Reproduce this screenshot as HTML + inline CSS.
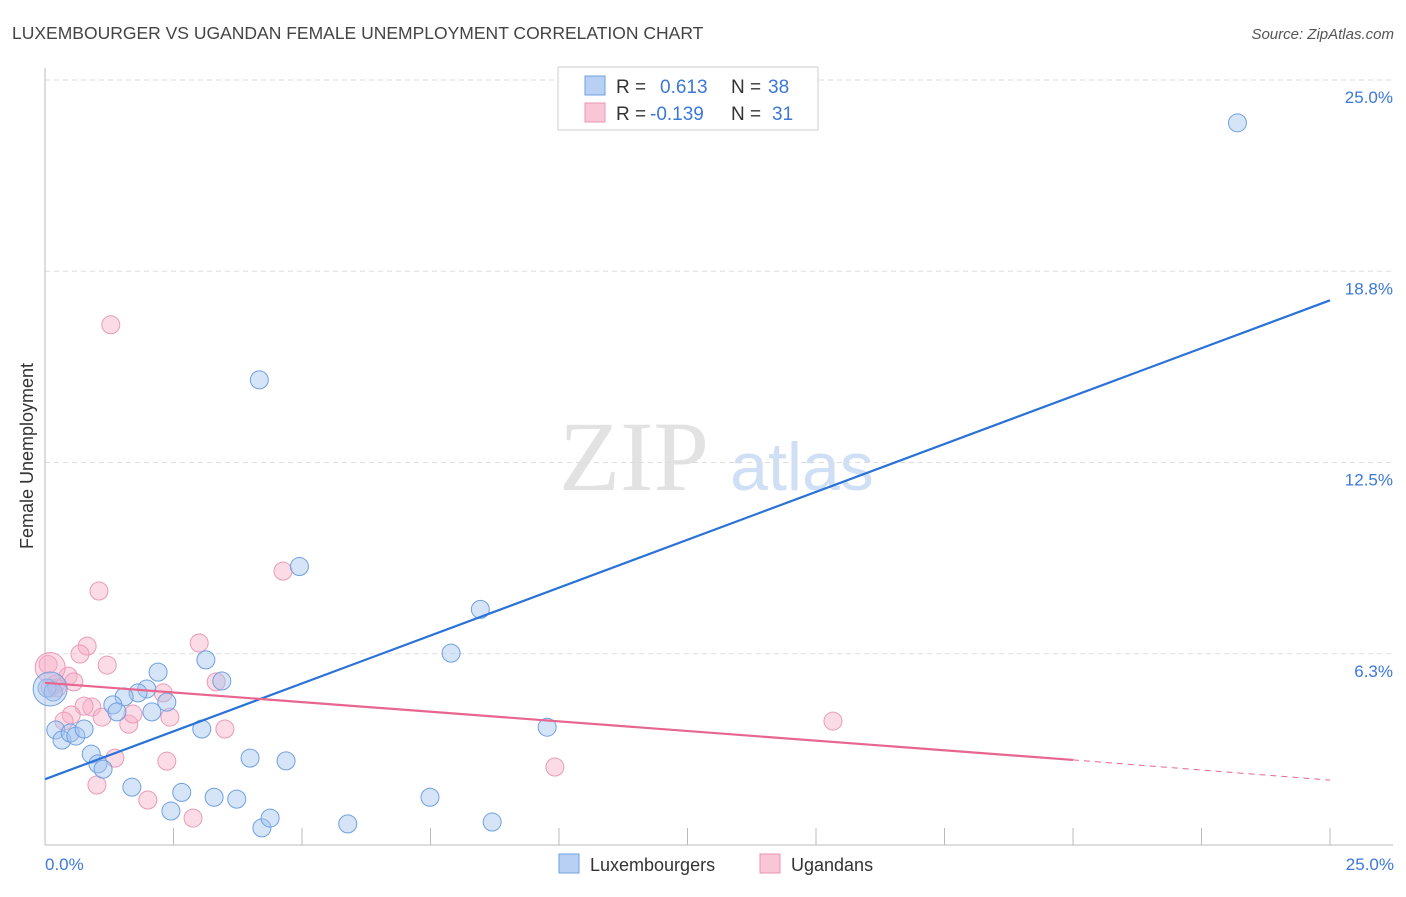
<!DOCTYPE html>
<html><head><meta charset="utf-8"><style>
body{margin:0;background:#fff;font-family:"Liberation Sans",sans-serif}
</style></head><body>
<svg id="c" width="1406" height="892" xmlns="http://www.w3.org/2000/svg">
<text x="12" y="39" font-size="17.5" fill="#444">LUXEMBOURGER VS UGANDAN FEMALE UNEMPLOYMENT CORRELATION CHART</text>
<text x="1394" y="39" font-size="15" fill="#555" font-style="italic" text-anchor="end">Source: ZipAtlas.com</text>
<text x="634" y="490" font-size="100" fill="#e2e2e2" font-family="Liberation Serif,serif" text-anchor="middle">ZIP</text>
<text x="802" y="490" font-size="68" fill="#cfdff5" text-anchor="middle">atlas</text>
<g id="grid"></g>
<line x1="45" y1="68" x2="45" y2="845" stroke="#bbb"/>
<line x1="45" y1="845" x2="1393" y2="845" stroke="#bbb"/>
<text x="33" y="456" font-size="18" fill="#333" transform="rotate(-90 33 456)" text-anchor="middle">Female Unemployment</text>
<text x="45" y="870" font-size="17" fill="#3b78d8">0.0%</text>
<text x="1394" y="870" font-size="17" fill="#3b78d8" text-anchor="end">25.0%</text>
<g id="pts"></g>
<g id="lines"></g>
<rect x="558" y="67" width="260" height="63" fill="#fff" stroke="#ccc"/>
<rect x="585" y="76" width="20" height="19" fill="#b7d0f4" stroke="#6fa0e0"/>
<rect x="585" y="103" width="20" height="19" fill="#f9c6d6" stroke="#e894b2"/>
<text x="616" y="93" font-size="19" fill="#333">R = <tspan fill="#3b78d8" x="660">0.613</tspan><tspan x="731" fill="#333">N = </tspan><tspan fill="#3b78d8" x="768">38</tspan></text>
<text x="616" y="120" font-size="19" fill="#333">R = <tspan fill="#3b78d8" x="650">-0.139</tspan><tspan x="731" fill="#333">N = </tspan><tspan fill="#3b78d8" x="772">31</tspan></text>
<rect x="559" y="854" width="20" height="19" fill="#b7d0f4" stroke="#6fa0e0"/>
<text x="590" y="871" font-size="18" fill="#333">Luxembourgers</text>
<rect x="760" y="854" width="20" height="19" fill="#f9c6d6" stroke="#e894b2"/>
<text x="791" y="871" font-size="18" fill="#333">Ugandans</text>
</svg>
<script>
const yTicks=[25,18.75,12.5,6.25];
const yTickLabels=["25.0%","18.8%","12.5%","6.3%"];
const xTicks=[2.5,5,7.5,10,12.5,15,17.5,20,22.5,25];
const luxX=[23.2,4.17,4.95,8.47,7.9,9.77,3.13,3.44,2.2,1.98,1.81,1.54,1.32,1.4,2.37,2.08,0.21,0.33,0.49,0.6,0.76,0.9,1.03,1.13,3.05,3.99,4.69,1.69,2.66,3.29,3.73,2.45,4.22,4.38,5.89,7.49,8.7,0.04,0.16,0.1];
const luxY=[23.6,15.2,9.1,7.7,6.27,3.85,6.05,5.36,5.65,5.1,4.97,4.84,4.58,4.35,4.67,4.35,3.76,3.43,3.66,3.56,3.79,2.97,2.65,2.48,3.79,2.84,2.75,1.89,1.72,1.56,1.5,1.11,0.56,0.88,0.69,1.56,0.75,5.13,5.0,5.1];
const luxR=[9,9,9,9,9,9,9,9,9,9,9,9,9,9,9,9,9,9,9,9,9,9,9,9,9,9,9,9,9,9,9,9,9,9,9,9,9,9,9,17];
const ugX=[1.28,1.05,4.63,3.0,0.82,0.68,1.21,0.45,0.56,0.21,0.1,0.06,2.3,3.33,0.91,0.76,0.51,0.37,1.11,1.63,1.71,2.43,3.5,1.36,2.37,1.01,2.0,2.88,15.33,9.92,0.23,0.1];
const ugY=[17.0,8.3,8.95,6.6,6.5,6.24,5.88,5.52,5.33,5.26,5.13,5.9,4.97,5.33,4.51,4.54,4.25,4.05,4.18,3.95,4.28,4.18,3.79,2.84,2.74,1.96,1.47,0.88,4.05,2.55,5.13,5.8];
const ugR=[9,9,9,9,9,9,9,9,9,9,9,9,9,9,9,9,9,9,9,9,9,9,9,9,9,9,9,9,9,9,9,15];
const luxTrend=[[0,2.15],[25,17.8]];
const ugTrendSolid=[[0,5.3],[20,2.78]];
const ugTrendDash=[[20,2.78],[25,2.12]];
const X=v=>45+v/25*1285, Y=v=>845-v/25*765;
const NS="http://www.w3.org/2000/svg";
function mk(tag,attrs,parent){const e=document.createElementNS(NS,tag);for(const k in attrs)e.setAttribute(k,attrs[k]);parent.appendChild(e);return e;}
const grid=document.getElementById('grid');
yTicks.forEach((t,i)=>{
 const l=mk('line',{x1:45,x2:1393,y1:Y(t),y2:Y(t),stroke:'#ddd','stroke-dasharray':'5,4'},grid);
 
 
 const tx=mk('text',{x:1393,y:Y(t)+23,'font-size':17,fill:'#3b78d8','text-anchor':'end'},grid);
 tx.textContent=yTickLabels[i];
 
 
});
xTicks.forEach(t=>{
 const l=mk('line',{x1:X(t),x2:X(t),y1:828,y2:845,stroke:'#bbb'},grid);
 
 
});
const pts=document.getElementById('pts');
ugX.forEach((v,i)=>{
 const c=mk('circle',{cx:X(v),cy:Y(ugY[i]),r:ugR[i],fill:'rgba(246,176,200,0.45)',stroke:'#eb9ab8','stroke-width':1},pts);
 
 
});
luxX.forEach((v,i)=>{
 const c=mk('circle',{cx:X(v),cy:Y(luxY[i]),r:luxR[i],fill:'rgba(164,196,240,0.45)',stroke:'#6fa0e0','stroke-width':1},pts);
 
 
});
const lines=document.getElementById('lines');
const b=mk('line',{x1:X(luxTrend[0][0]),y1:Y(luxTrend[0][1]),x2:X(luxTrend[1][0]),y2:Y(luxTrend[1][1]),stroke:'#2a72d6','stroke-width':2.2},lines);


const p=mk('line',{x1:X(ugTrendSolid[0][0]),y1:Y(ugTrendSolid[0][1]),x2:X(ugTrendSolid[1][0]),y2:Y(ugTrendSolid[1][1]),stroke:'#e8658f','stroke-width':2.2},lines);


const pd=mk('line',{x1:X(ugTrendDash[0][0]),y1:Y(ugTrendDash[0][1]),x2:X(ugTrendDash[1][0]),y2:Y(ugTrendDash[1][1]),stroke:'#e8658f','stroke-width':1,'stroke-dasharray':'6,5'},lines);


</script>
</body></html>
